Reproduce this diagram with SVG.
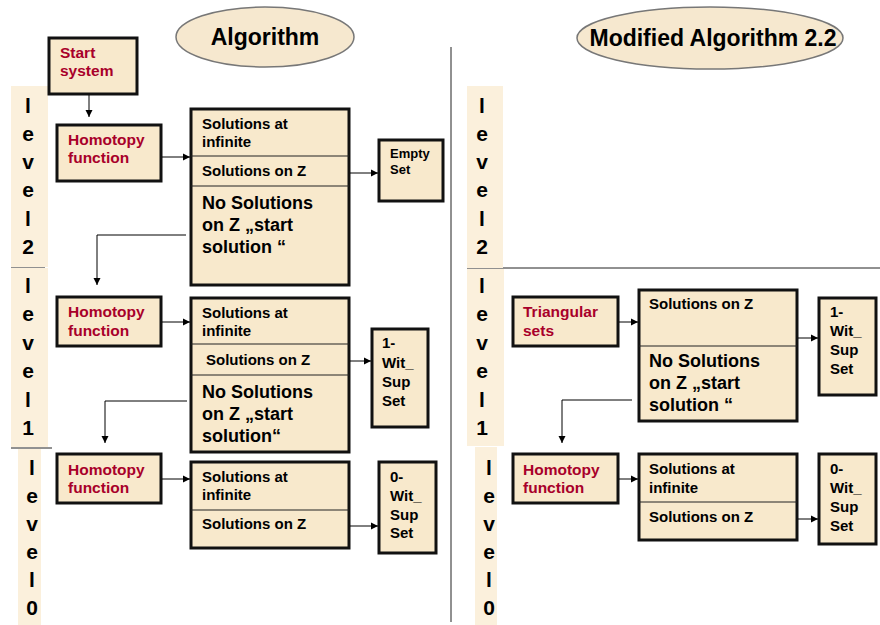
<svg xmlns="http://www.w3.org/2000/svg" width="880" height="625" viewBox="0 0 880 625">
<defs>
<marker id="ah" markerWidth="8" markerHeight="8" refX="7" refY="4" orient="auto" markerUnits="userSpaceOnUse">
<path d="M0,0.5 L7,4 L0,7.5 Z" fill="#000"/>
</marker>
<style>
.box{fill:#f8e9cc;stroke:#111;stroke-width:3}
.strip{fill:#fbf0dc;stroke:none}
.ell{fill:#f6e8cf;stroke:#777;stroke-width:1.5}
.div{stroke:#222;stroke-width:1;fill:none}
.con{stroke:#000;stroke-width:1;fill:none}
text{font-family:"Liberation Sans",Arial,sans-serif;font-weight:bold}
.t{font-size:15px;fill:#000}
.big{font-size:18px;fill:#000}
.red{font-size:15.5px;fill:#a8002a}
.sm{font-size:13px;fill:#000}
.ttl{font-size:23px;fill:#000}
.lv{font-size:21px;fill:#000;text-anchor:middle}
</style>
</defs>
<rect width="880" height="625" fill="#fff"/>

<!-- layout lines -->
<g id="layout">
<line x1="451" y1="47" x2="451" y2="622" class="div"/>
<line x1="467" y1="268" x2="880" y2="268" class="div"/>
<line x1="11" y1="267" x2="45" y2="267" class="div"/>
<line x1="11" y1="448" x2="52" y2="448" class="div"/>
<line x1="475" y1="440" x2="498" y2="440" class="div"/>
</g>

<!-- titles -->
<g id="title-algorithm">
<ellipse cx="265" cy="37" rx="89" ry="30" class="ell"/>
<text x="265" y="45" class="ttl" text-anchor="middle">Algorithm</text>
</g>
<g id="title-modified">
<ellipse cx="710" cy="38" rx="133" ry="31" class="ell"/>
<text x="713" y="46" class="ttl" text-anchor="middle">Modified Algorithm 2.2</text>
</g>

<!-- level strips -->
<g id="level2-left">
<rect x="11" y="86" width="37" height="181" class="strip"/>
<text class="lv"><tspan x="28" y="113">l</tspan><tspan x="28" y="141">e</tspan><tspan x="28" y="169">v</tspan><tspan x="28" y="197">e</tspan><tspan x="28" y="226">l</tspan><tspan x="28" y="254">2</tspan></text>
</g>
<g id="level1-left">
<rect x="11" y="268" width="37" height="179" class="strip"/>
<text class="lv"><tspan x="28" y="293">l</tspan><tspan x="28" y="321">e</tspan><tspan x="28" y="350">v</tspan><tspan x="28" y="378">e</tspan><tspan x="28" y="407">l</tspan><tspan x="28" y="435">1</tspan></text>
</g>
<g id="level0-left">
<rect x="18" y="449" width="23" height="176" class="strip"/>
<text class="lv"><tspan x="32" y="475">l</tspan><tspan x="32" y="503">e</tspan><tspan x="32" y="531">v</tspan><tspan x="32" y="559">e</tspan><tspan x="32" y="587">l</tspan><tspan x="32" y="615">0</tspan></text>
</g>
<g id="level2-right">
<rect x="467" y="86" width="36" height="182" class="strip"/>
<text class="lv"><tspan x="482" y="113">l</tspan><tspan x="482" y="141">e</tspan><tspan x="482" y="169">v</tspan><tspan x="482" y="197">e</tspan><tspan x="482" y="226">l</tspan><tspan x="482" y="254">2</tspan></text>
</g>
<g id="level1-right">
<rect x="467" y="269" width="37" height="177" class="strip"/>
<text class="lv"><tspan x="482" y="293">l</tspan><tspan x="482" y="321">e</tspan><tspan x="482" y="350">v</tspan><tspan x="482" y="378">e</tspan><tspan x="482" y="407">l</tspan><tspan x="482" y="435">1</tspan></text>
</g>
<g id="level0-right">
<rect x="475" y="447" width="22" height="178" class="strip"/>
<text class="lv"><tspan x="489" y="475">l</tspan><tspan x="489" y="503">e</tspan><tspan x="489" y="531">v</tspan><tspan x="489" y="559">e</tspan><tspan x="489" y="587">l</tspan><tspan x="489" y="615">0</tspan></text>
</g>

<!-- nodes left -->
<g id="start-system">
<rect x="49" y="38" width="88" height="56" class="box"/>
<text class="red" x="60" y="58">Start</text>
<text class="red" x="60" y="76">system</text>
</g>
<g id="homotopy-l2">
<rect x="57" y="125" width="104" height="56" class="box"/>
<text class="red" x="68" y="145">Homotopy</text>
<text class="red" x="68" y="163">function</text>
</g>
<g id="solutions-l2">
<rect x="191" y="109" width="158" height="176" class="box"/>
<line x1="191" y1="156" x2="349" y2="156" class="div"/>
<line x1="191" y1="186" x2="349" y2="186" class="div"/>
<text class="t" x="202" y="129">Solutions at</text>
<text class="t" x="202" y="147">infinite</text>
<text class="t" x="202" y="176">Solutions on Z</text>
<text class="big" x="202" y="209">No Solutions</text>
<text class="big" x="202" y="231">on Z „start</text>
<text class="big" x="202" y="253">solution “</text>
</g>
<g id="empty-set">
<rect x="379" y="140" width="64" height="61" class="box"/>
<text class="sm" x="390" y="158">Empty</text>
<text class="sm" x="390" y="174">Set</text>
</g>
<g id="homotopy-l1">
<rect x="57" y="297" width="104" height="49" class="box"/>
<text class="red" x="68" y="317">Homotopy</text>
<text class="red" x="68" y="336">function</text>
</g>
<g id="solutions-l1">
<rect x="191" y="298" width="158" height="154" class="box"/>
<line x1="191" y1="344" x2="349" y2="344" class="div"/>
<line x1="191" y1="375" x2="349" y2="375" class="div"/>
<text class="t" x="202" y="318">Solutions at</text>
<text class="t" x="202" y="336">infinite</text>
<text class="t" x="206" y="365">Solutions on Z</text>
<text class="big" x="202" y="398">No Solutions</text>
<text class="big" x="202" y="420">on Z „start</text>
<text class="big" x="202" y="442">solution“</text>
</g>
<g id="wit-sup-1-left">
<rect x="372" y="329" width="56" height="98" class="box"/>
<text class="t" x="382" y="348">1-</text>
<text class="t" x="382" y="368">Wit_</text>
<text class="t" x="382" y="387">Sup</text>
<text class="t" x="382" y="406">Set</text>
</g>
<g id="homotopy-l0">
<rect x="57" y="454" width="104" height="49" class="box"/>
<text class="red" x="68" y="475">Homotopy</text>
<text class="red" x="68" y="493">function</text>
</g>
<g id="solutions-l0">
<rect x="191" y="462" width="158" height="86" class="box"/>
<line x1="191" y1="510" x2="349" y2="510" class="div"/>
<text class="t" x="202" y="482">Solutions at</text>
<text class="t" x="202" y="500">infinite</text>
<text class="t" x="202" y="529">Solutions on Z</text>
</g>
<g id="wit-sup-0-left">
<rect x="379" y="462" width="57" height="91" class="box"/>
<text class="t" x="390" y="482">0-</text>
<text class="t" x="390" y="501">Wit_</text>
<text class="t" x="390" y="520">Sup</text>
<text class="t" x="390" y="538">Set</text>
</g>

<!-- nodes right -->
<g id="triangular-sets">
<rect x="513" y="297" width="105" height="49" class="box"/>
<text class="red" x="523" y="317">Triangular</text>
<text class="red" x="523" y="336">sets</text>
</g>
<g id="solutions-r1">
<rect x="639" y="290" width="158" height="131" class="box"/>
<line x1="639" y1="346" x2="797" y2="346" class="div"/>
<text class="t" x="649" y="309">Solutions on Z</text>
<text class="big" x="649" y="367">No Solutions</text>
<text class="big" x="649" y="389">on Z „start</text>
<text class="big" x="649" y="411">solution “</text>
</g>
<g id="wit-sup-1-right">
<rect x="819" y="298" width="57" height="97" class="box"/>
<text class="t" x="830" y="317">1-</text>
<text class="t" x="830" y="336">Wit_</text>
<text class="t" x="830" y="355">Sup</text>
<text class="t" x="830" y="374">Set</text>
</g>
<g id="homotopy-r0">
<rect x="513" y="454" width="105" height="49" class="box"/>
<text class="red" x="523" y="475">Homotopy</text>
<text class="red" x="523" y="493">function</text>
</g>
<g id="solutions-r0">
<rect x="639" y="454" width="158" height="86" class="box"/>
<line x1="639" y1="502" x2="797" y2="502" class="div"/>
<text class="t" x="649" y="474">Solutions at</text>
<text class="t" x="649" y="493">infinite</text>
<text class="t" x="649" y="522">Solutions on Z</text>
</g>
<g id="wit-sup-0-right">
<rect x="819" y="454" width="57" height="90" class="box"/>
<text class="t" x="830" y="474">0-</text>
<text class="t" x="830" y="493">Wit_</text>
<text class="t" x="830" y="512">Sup</text>
<text class="t" x="830" y="531">Set</text>
</g>

<!-- connectors -->
<g id="connectors">
<line x1="89" y1="95" x2="89" y2="117" class="con" marker-end="url(#ah)"/>
<line x1="162" y1="157" x2="190" y2="157" class="con" marker-end="url(#ah)"/>
<line x1="350" y1="173" x2="378" y2="173" class="con" marker-end="url(#ah)"/>
<polyline points="186,235 97,235 97,285" class="con" marker-end="url(#ah)"/>
<line x1="162" y1="322" x2="190" y2="322" class="con" marker-end="url(#ah)"/>
<line x1="350" y1="361" x2="371" y2="361" class="con" marker-end="url(#ah)"/>
<polyline points="187,401 105,401 105,443" class="con" marker-end="url(#ah)"/>
<line x1="162" y1="479" x2="190" y2="479" class="con" marker-end="url(#ah)"/>
<line x1="350" y1="526" x2="378" y2="526" class="con" marker-end="url(#ah)"/>
<line x1="619" y1="322" x2="638" y2="322" class="con" marker-end="url(#ah)"/>
<line x1="798" y1="338" x2="818" y2="338" class="con" marker-end="url(#ah)"/>
<polyline points="632,400 562,400 562,443" class="con" marker-end="url(#ah)"/>
<line x1="619" y1="479" x2="638" y2="479" class="con" marker-end="url(#ah)"/>
<line x1="798" y1="519" x2="818" y2="519" class="con" marker-end="url(#ah)"/>
</g>
</svg>
